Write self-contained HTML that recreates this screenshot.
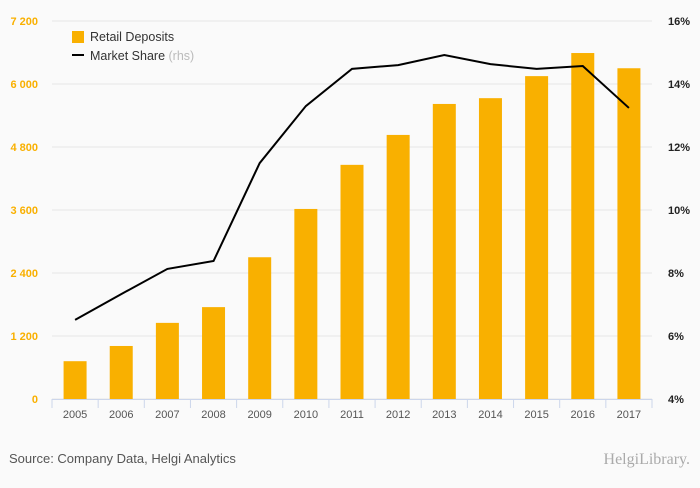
<!DOCTYPE html>
<html><head><meta charset="utf-8"><style>
body{margin:0;background:#fafafa;font-family:"Liberation Sans",sans-serif}
svg text{font-family:"Liberation Sans",sans-serif}
</style></head><body>
<svg id="c" width="700" height="483">
<rect width="700" height="483" fill="#fafafa"/>
<g id="grid"></g><g id="bars"></g><g id="line"></g><g id="axes"></g>
<g>
<rect x="72" y="31" width="12" height="12" fill="#f9b000"/>
<text x="90" y="41" font-size="12.5" fill="#333">Retail Deposits</text>
<rect x="72" y="54" width="12" height="2" fill="#000"/>
<text x="90" y="60" font-size="12.5" fill="#333">Market Share <tspan fill="#bbb">(rhs)</tspan></text>
</g>
<text x="9" y="463" font-size="13" fill="#555">Source: Company Data, Helgi Analytics</text>
<text x="690" y="464" font-size="16" fill="#aaa" text-anchor="end" style="font-family:'Liberation Serif',serif">HelgiLibrary.</text>
</svg>
<script>
const years=["2005","2006","2007","2008","2009","2010","2011","2012","2013","2014","2015","2016","2017"];
const deposits=[720,1010,1450,1750,2700,3620,4460,5030,5620,5730,6150,6590,6300];
const share=[6.51,7.33,8.13,8.38,11.49,13.30,14.48,14.60,14.92,14.63,14.48,14.57,13.24];
const leftTicks=[0,1200,2400,3600,4800,6000,7200];
const leftTickLabels=["0","1 200","2 400","3 600","4 800","6 000","7 200"];
const rightTicks=[4,6,8,10,12,14,16];
const rightTickLabels=["4%","6%","8%","10%","12%","14%","16%"];
const NS="http://www.w3.org/2000/svg";
const x0=52,x1=652,yTop=21,yBot=399,band=(x1-x0)/years.length;
const yL=v=>yBot-(v/7200)*(yBot-yTop);
const yR=v=>yBot-((v-4)/12)*(yBot-yTop);
const xc=i=>x0+band*(i+0.5);
function mk(tag,attrs,parent,txt){const e=document.createElementNS(NS,tag);for(const k in attrs)e.setAttribute(k,attrs[k]);if(txt!==undefined)e.textContent=txt;document.getElementById(parent).appendChild(e);return e;}
leftTicks.forEach((t,i)=>{
 const g=mk('line',{x1:x0,x2:x1,y1:yL(t),y2:yL(t),stroke:'#e6e6e6','stroke-width':1},'grid');
 
 
 const l=mk('text',{x:38,y:yL(t)+4,'font-size':11,fill:'#f9b000','text-anchor':'end','font-weight':'bold'},'axes',leftTickLabels[i]);
 
 
});
rightTicks.forEach((t,i)=>{
 const l=mk('text',{x:668,y:yR(t)+4,'font-size':11,fill:'#222','font-weight':'bold'},'axes',rightTickLabels[i]);
 
 
});
const ax=mk('line',{x1:x0,x2:x1,y1:yBot+0.5,y2:yBot+0.5,stroke:'#ccd6eb'},'axes');


for(let i=0;i<=years.length;i++){
 const tk=mk('line',{x1:x0+band*i,x2:x0+band*i,y1:yBot,y2:yBot+9,stroke:'#ccd6eb'},'axes');
 
 
}
years.forEach((y,i)=>{
 const l=mk('text',{x:xc(i),y:418,'font-size':11,fill:'#555','text-anchor':'middle'},'axes',y);
 
 
 const b=mk('rect',{x:xc(i)-11.5,y:yL(deposits[i]),width:23,height:yBot-yL(deposits[i]),fill:'#f9b000'},'bars');
 
 
});
const p=mk('polyline',{points:share.map((v,i)=>xc(i)+','+yR(v)).join(' '),fill:'none',stroke:'#000','stroke-width':2},'line');


</script>
</body></html>
